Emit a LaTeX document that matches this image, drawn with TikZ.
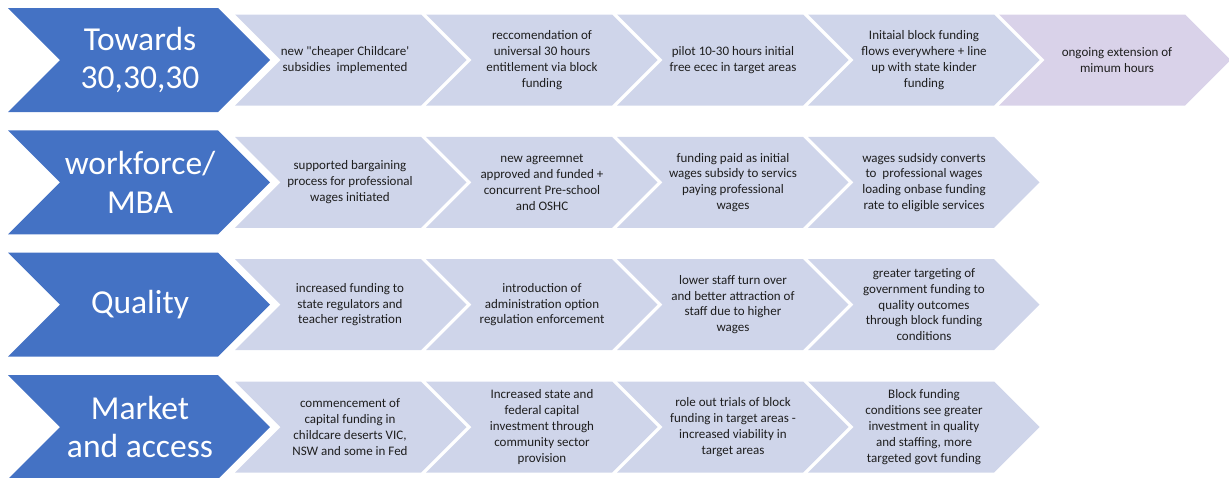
\documentclass[tikz,border=0pt]{standalone}
\usepackage{fontspec}
\setmainfont{Carlito}
\definecolor{hdblue}{HTML}{4472C4}
\definecolor{stepfill}{HTML}{CFD5EA}
\definecolor{lastfill}{HTML}{D9D2E9}
\definecolor{txtdark}{HTML}{1E1E1E}
\newcommand\hdchev[1]{%
  \fill[hdblue] (8,#1-52) -- (218,#1-52) -- (270,#1) -- (218,#1+52) -- (8,#1+52) -- (60,#1) -- cycle;}
\newcommand\stchev[3]{%
  \fill[#3] (#1,#2-45.5) -- ++(186,0) -- ++(45.5,45.5) -- ++(-45.5,45.5) -- ++(-186,0) -- ++(45.5,-45.5) -- cycle;}
\begin{document}
\begin{tikzpicture}[x=1pt,y=-1pt,
  hdtext/.style={text=white, font=\fontsize{33.5}{38.5}\selectfont, align=center, inner sep=0pt},
  steptext/.style={text=txtdark, font=\fontsize{13}{15.8}\selectfont, align=center, inner sep=0pt}]
\useasboundingbox (0,0) rectangle (1229,477);
% row centres
\def\ra{60}\def\rb{182.3}\def\rc{304.6}\def\rd{427}
% chevrons
\foreach \yc in {\ra,\rb,\rc,\rd} {
  \hdchev{\yc}
  \foreach \k in {0,1,2,3} {
    \stchev{235+191*\k}{\yc}{stepfill}
  }
}
\stchev{235+191*4}{\ra}{lastfill}
% headings
\node[hdtext] (h1) at (140,\ra) {Towards\\30,30,30};
\node[hdtext] (h2) at (140,\rb) {workforce/\\MBA};
\node[hdtext] (h3) at (140,\rc) {Quality};
\node[hdtext] (h4) at (140,\rd) {Market\\and access};
% row 1
\node[steptext] (a1) at (235+110,\ra) {new \textquotedbl cheaper Childcare\textquotesingle\\ subsidies\ \ implemented};
\node[steptext] (a2) at (426+116,\ra) {reccomendation of\\ universal 30 hours\\ entitlement via block\\ funding};
\node[steptext] (a3) at (617+116,\ra) {pilot 10-30 hours initial\\ free ecec in target areas};
\node[steptext] (a4) at (808+116,\ra) {Initaial block funding\\ flows everywhere + line\\ up with state kinder\\ funding};
\node[steptext] (a5) at (999+118,\ra) {ongoing extension of\\ mimum hours};
% row 2
\node[steptext] (b1) at (235+115,\rb) {supported bargaining\\ process for professional\\ wages initiated};
\node[steptext] (b2) at (426+116,\rb) {new agreemnet\\ approved and funded +\\ concurrent Pre-school\\ and OSHC};
\node[steptext] (b3) at (617+116,\rb) {funding paid as initial\\ wages subsidy to servics\\ paying professional\\ wages};
\node[steptext] (b4) at (808+116,\rb) {wages sudsidy converts\\ to\ \ professional wages\\ loading onbase funding\\ rate to eligible services};
% row 3
\node[steptext] (c1) at (235+115,\rc) {increased funding to\\ state regulators and\\ teacher registration};
\node[steptext] (c2) at (426+116,\rc) {introduction of\\ administration option\\ regulation enforcement};
\node[steptext] (c3) at (617+116,\rc) {lower staff turn over\\ and better attraction of\\ staff due to higher\\ wages};
\node[steptext] (c4) at (808+116,\rc) {greater targeting of\\ government funding to\\ quality outcomes\\ through block funding\\ conditions};
% row 4
\node[steptext] (d1) at (235+115,\rd) {commencement of\\ capital funding in\\ childcare deserts VIC,\\ NSW and some in Fed};
\node[steptext] (d2) at (426+116,\rd) {Increased state and\\ federal capital\\ investment through\\ community sector\\ provision};
\node[steptext] (d3) at (617+116,\rd) {role out trials of block\\ funding in target areas -\\ increased viability in\\ target areas};
\node[steptext] (d4) at (808+116,\rd) {Block funding\\ conditions see greater\\ investment in quality\\ and staffing, more\\ targeted govt funding};
\end{tikzpicture}
\end{document}
